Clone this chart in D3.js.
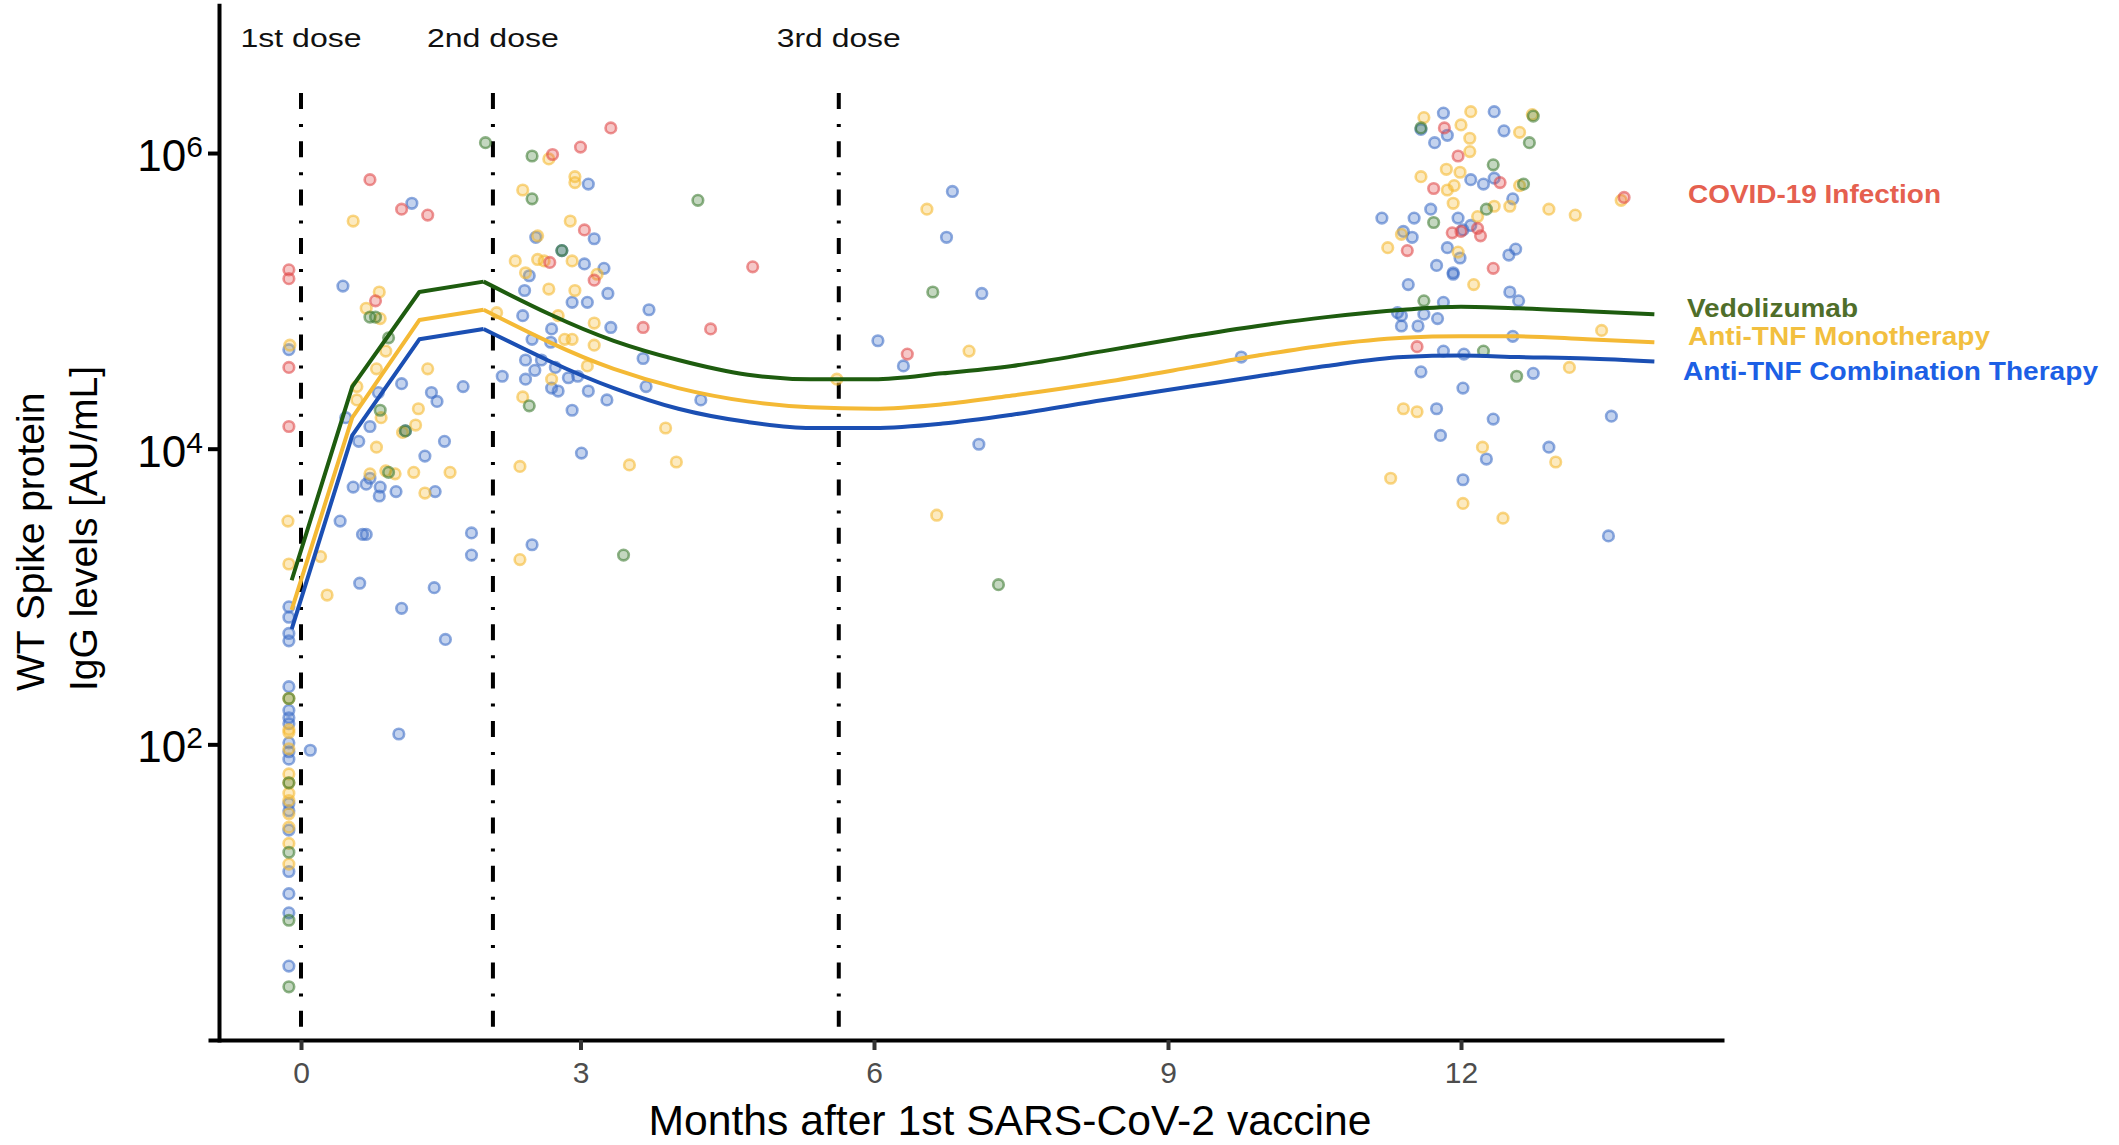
<!DOCTYPE html>
<html>
<head>
<meta charset="utf-8">
<script src="https://cdn.jsdelivr.net/npm/d3@7"></script>
<style>
body { margin: 0; background: #fff; }
text { font-family: "Liberation Sans", Arial, Helvetica, sans-serif; }
</style>
</head>
<body>
<svg id="chart" width="2119" height="1145"></svg>
<script>
// each point: [months after 1st dose, log10 IgG (AU/mL)]
var covidPts = [
  [3.31,6.17],[3.00,6.04],[2.70,5.99],[0.74,5.82],[1.08,5.62],[1.36,5.58],[3.04,5.48],[2.67,5.26],[3.14,5.14],
  [-0.13,5.21],[-0.13,5.15],[0.80,5.00],[3.64,4.82],[4.33,4.81],[-0.13,4.55],[-0.13,4.15],[6.34,4.64],[4.76,5.23],
  [11.83,6.17],[11.97,5.98],[12.40,5.80],[11.72,5.76],[13.67,5.70],[11.91,5.46],[12.00,5.47],[12.17,5.49],
  [12.20,5.44],[11.45,5.34],[12.33,5.22],[11.55,4.69]
];
var vedoPts = [
  [1.98,6.07],[2.48,5.98],[2.48,5.69],[4.20,5.68],[2.80,5.34],[0.74,4.89],[0.80,4.89],[0.94,4.75],[2.45,4.29],
  [0.85,4.26],[1.12,4.12],[0.94,3.84],[3.44,3.28],
  [-0.13,2.31],[-0.13,1.74],[-0.13,1.27],[-0.13,0.81],[-0.13,0.36],
  [6.60,5.06],[7.27,3.08],
  [12.74,6.25],[11.59,6.17],[12.70,6.07],[12.33,5.92],[12.64,5.79],[12.26,5.62],[11.72,5.53],[11.62,5.00],
  [12.23,4.66],[12.57,4.49]
];
var monoPts = [
  [2.66,5.96],[2.94,5.84],[2.94,5.80],[2.38,5.75],[0.56,5.54],[2.89,5.54],[2.54,5.44],[2.30,5.27],[2.54,5.28],
  [2.61,5.27],[2.91,5.27],[3.17,5.18],[2.41,5.19],[0.84,5.06],[0.70,4.95],[0.85,4.88],[2.66,5.08],[2.94,5.07],
  [2.10,4.92],[2.76,4.90],[3.14,4.85],[2.83,4.74],[2.91,4.74],[3.14,4.70],[-0.12,4.70],[0.91,4.66],[0.81,4.54],
  [1.36,4.54],[3.07,4.56],[2.69,4.47],[0.60,4.42],[0.60,4.33],[2.38,4.35],[1.26,4.27],[0.86,4.21],[1.23,4.16],
  [1.09,4.11],[0.81,4.01],[3.87,4.14],[2.35,3.88],[3.50,3.89],[3.98,3.91],[0.74,3.83],[0.91,3.85],[1.01,3.83],
  [1.21,3.84],[1.60,3.84],[1.33,3.70],[-0.14,3.51],[0.21,3.27],[2.35,3.25],[-0.13,3.22],[0.28,3.01],
  [-0.13,2.31],[-0.13,2.10],[-0.13,2.08],[-0.13,1.97],[-0.13,1.80],[-0.13,1.74],[-0.13,1.67],[-0.13,1.62],
  [-0.13,1.53],[-0.13,1.44],[-0.13,1.33],[-0.13,1.19],
  [6.54,5.62],[6.97,4.66],[5.62,4.47],[6.64,3.55],
  [11.62,6.24],[12.10,6.28],[12.73,6.26],[12.00,6.19],[12.60,6.14],[12.09,6.10],[12.09,6.01],[11.59,5.84],
  [11.85,5.89],[11.99,5.87],[12.60,5.78],[11.86,5.75],[11.93,5.78],[11.92,5.66],[12.34,5.64],[12.50,5.64],
  [12.17,5.57],[12.90,5.62],[13.17,5.58],[13.64,5.68],[11.39,5.45],[11.25,5.36],[11.97,5.33],[12.13,5.11],
  [13.44,4.80],[13.11,4.55],[11.41,4.27],[11.55,4.25],[12.22,4.01],[12.97,3.91],[11.28,3.80],[12.02,3.63],
  [12.43,3.53]
];
var comboPts = [
  [3.08,5.79],[1.19,5.66],[3.14,5.42],[2.52,5.43],[2.80,5.34],[3.04,5.25],[3.24,5.22],[2.45,5.17],[0.45,5.10],
  [2.40,5.07],[3.28,5.05],[2.91,4.99],[3.07,4.99],[3.70,4.94],[2.38,4.90],[3.31,4.82],[2.69,4.81],[2.48,4.74],
  [2.68,4.72],[-0.13,4.67],[2.41,4.60],[2.58,4.60],[2.73,4.55],[2.51,4.53],[3.64,4.61],[2.16,4.49],[2.41,4.47],
  [2.87,4.48],[2.97,4.49],[1.08,4.44],[1.74,4.42],[0.83,4.38],[1.40,4.38],[1.46,4.32],[2.69,4.41],[2.76,4.39],
  [3.08,4.39],[3.67,4.42],[3.27,4.33],[4.23,4.33],[2.91,4.26],[0.48,4.21],[0.74,4.15],[1.12,4.12],[0.62,4.05],
  [1.54,4.05],[3.01,3.97],[1.33,3.95],[0.74,3.80],[0.56,3.74],[0.70,3.76],[0.85,3.74],[0.84,3.68],[1.02,3.71],
  [1.44,3.71],[0.42,3.51],[0.66,3.42],[0.70,3.42],[1.83,3.43],[2.48,3.35],[1.83,3.28],[0.63,3.09],[1.43,3.06],
  [1.08,2.92],[1.55,2.71],
  [-0.13,2.93],[-0.13,2.86],[-0.13,2.75],[-0.13,2.70],[-0.13,2.39],[-0.13,2.23],[-0.13,2.18],[-0.13,2.14],
  [-0.13,2.01],[-0.13,1.95],[-0.13,1.90],[-0.13,1.60],[-0.13,1.55],[-0.13,1.42],[-0.13,1.14],[-0.13,0.99],
  [-0.13,0.86],[-0.13,0.50],[0.10,1.96],[1.05,2.07],
  [6.80,5.74],[6.74,5.43],[7.10,5.05],[6.04,4.73],[6.30,4.56],[9.75,4.62],[7.07,4.03],
  [11.82,6.27],[12.34,6.28],[11.59,6.16],[11.86,6.12],[12.44,6.15],[11.73,6.07],[12.10,5.82],[12.23,5.79],
  [12.34,5.83],[12.53,5.69],[11.19,5.56],[11.52,5.56],[11.69,5.62],[11.97,5.56],[12.10,5.51],[12.02,5.48],
  [11.41,5.47],[11.50,5.43],[11.86,5.36],[11.99,5.29],[12.49,5.31],[12.56,5.35],[11.75,5.24],[11.92,5.19],
  [11.92,5.18],[11.46,5.11],[12.50,5.06],[12.59,5.00],[11.82,4.99],[11.35,4.92],[11.39,4.90],[11.62,4.91],
  [11.76,4.88],[11.39,4.83],[11.56,4.83],[12.53,4.76],[11.82,4.66],[12.03,4.64],[11.59,4.52],[12.74,4.51],
  [12.02,4.41],[11.75,4.27],[12.33,4.20],[13.54,4.22],[11.79,4.09],[12.90,4.01],[12.26,3.93],[12.02,3.79],
  [13.51,3.41]
];

// fitted curves, log10 IgG at these months
var fitMonths = [-0.10, 0.55, 1.27, 1.96, 3.34, 4.00, 4.71, 5.35, 6.00, 6.70, 7.41, 8.34, 9.23, 9.92, 10.62, 11.41, 12.0, 12.59, 13.29, 13.98];
var vedoFit  = [3.11, 4.42, 5.06, 5.13, 4.73, 4.60, 4.50, 4.47, 4.47, 4.51, 4.56, 4.66, 4.76, 4.83, 4.89, 4.94, 4.96, 4.95, 4.93, 4.91];
var monoFit  = [2.91, 4.21, 4.87, 4.94, 4.54, 4.41, 4.32, 4.28, 4.27, 4.30, 4.36, 4.45, 4.55, 4.63, 4.70, 4.75, 4.76, 4.76, 4.74, 4.72];
var comboFit = [2.78, 4.09, 4.74, 4.81, 4.41, 4.27, 4.18, 4.14, 4.14, 4.17, 4.23, 4.33, 4.42, 4.49, 4.56, 4.62, 4.63, 4.62, 4.61, 4.59];

var doseMonths = [0, 2.06, 5.64];
var doseLabels = ['1st dose', '2nd dose', '3rd dose'];
var xTicks = [0, 3, 6, 9, 12];
var yTicks = [1e2, 1e4, 1e6];
var groupNames = ['COVID-19 Infection', 'Vedolizumab', 'Anti-TNF Monotherapy', 'Anti-TNF Combination Therapy'];

var svg = d3.select('#chart');

// the printed axis is not perfectly even, so map each tick to its place
var xScale = d3.scaleLinear()
  .domain([-0.998, 0, 3, 6, 9, 12, 14.693])
  .range([208, 301, 580.5, 874, 1168, 1461, 1724]);

var yScale = d3.scaleLog()
  .domain([1, 1e7])
  .range([1040, 5.2]);

function px(d) { return xScale(d[0]); }
function py(d) { return yScale(Math.pow(10, d[1])); }

// dose markers
svg.append('g')
  .selectAll('line')
  .data(doseMonths)
  .join('line')
  .attr('x1', function (d) { return xScale(d); })
  .attr('x2', function (d) { return xScale(d); })
  .attr('y1', 93)
  .attr('y2', 1040)
  .attr('stroke', '#000')
  .attr('stroke-width', 4)
  .attr('stroke-dasharray', '16,15,3,14.3');

var lens = [121, 132, 124];
svg.append('g')
  .selectAll('text')
  .data(doseLabels)
  .join('text')
  .attr('x', function (d, i) { return xScale(doseMonths[i]); })
  .attr('y', 46.5)
  .attr('text-anchor', 'middle')
  .attr('font-size', 26)
  .attr('textLength', function (d, i) { return lens[i]; })
  .attr('lengthAdjust', 'spacingAndGlyphs')
  .attr('fill', '#111')
  .text(function (d) { return d; });

// scatter
var pointSets = [
  { pts: comboPts, color: '#3d6cc6' },
  { pts: monoPts, color: '#f5b82e' },
  { pts: vedoPts, color: '#3c7a30' },
  { pts: covidPts, color: '#e04848' }
];

pointSets.forEach(function (s) {
  svg.append('g')
    .selectAll('circle')
    .data(s.pts)
    .join('circle')
    .attr('cx', px)
    .attr('cy', py)
    .attr('r', 5.3)
    .attr('fill', s.color)
    .attr('fill-opacity', 0.3)
    .attr('stroke', s.color)
    .attr('stroke-opacity', 0.58)
    .attr('stroke-width', 2.6);
});

// fitted curves: straight segments up to the peak, smooth afterwards
var fits = [
  { vals: comboFit, color: '#1b4fb3' },
  { vals: monoFit, color: '#f4b935' },
  { vals: vedoFit, color: '#1e5c0f' }
];

var lineStraight = d3.line().x(px).y(py).curve(d3.curveLinear);
var lineSmooth = d3.line().x(px).y(py).curve(d3.curveMonotoneX);

fits.forEach(function (f) {
  var pts = fitMonths.map(function (m, i) { return [m, f.vals[i]]; });
  svg.append('path')
    .attr('d', lineStraight(pts.slice(0, 4)))
    .attr('fill', 'none')
    .attr('stroke', f.color)
    .attr('stroke-width', 4)
    .attr('stroke-linejoin', 'round');
  svg.append('path')
    .attr('d', lineSmooth(pts.slice(3)))
    .attr('fill', 'none')
    .attr('stroke', f.color)
    .attr('stroke-width', 4)
    .attr('stroke-linejoin', 'round');
});

// axes
var gx = svg.append('g')
  .attr('transform', 'translate(0,1040)')
  .call(d3.axisBottom(xScale).tickValues(xTicks).tickSize(10).tickSizeOuter(0).tickPadding(12));
gx.select('.domain').attr('stroke', '#000').attr('stroke-width', 4);
gx.selectAll('.tick line').attr('stroke', '#333').attr('stroke-width', 4);
gx.selectAll('.tick text')
  .attr('font-size', 30)
  .attr('fill', '#4d4d4d')
  .style('font-family', '"Liberation Sans", Arial, sans-serif');

var gy = svg.append('g')
  .attr('transform', 'translate(219,0)')
  .call(d3.axisLeft(yScale).tickValues(yTicks).tickSize(11).tickSizeOuter(0).tickPadding(5));
gy.select('.domain').attr('stroke', '#000').attr('stroke-width', 4).attr('stroke-linecap', 'square');
gy.selectAll('.tick line').attr('stroke', '#000').attr('stroke-width', 4);
gy.selectAll('.tick text')
  .attr('dy', '0.4em')
  .attr('font-size', 44)
  .attr('fill', '#000')
  .style('font-family', '"Liberation Sans", Arial, sans-serif')
  .each(function (d) {
    var t = d3.select(this);
    t.text(null);
    t.append('tspan').text('10');
    t.append('tspan').attr('dy', -14).attr('font-size', 30).text(Math.round(Math.log10(d)));
  });

// axis titles
svg.append('text')
  .attr('x', 1010)
  .attr('y', 1135)
  .attr('text-anchor', 'middle')
  .attr('font-size', 43)
  .attr('textLength', 723)
  .attr('lengthAdjust', 'spacingAndGlyphs')
  .attr('fill', '#000')
  .text('Months after 1st SARS-CoV-2 vaccine');

var yTitle = ['WT Spike protein', 'IgG levels [AU/mL]'];
svg.append('g')
  .selectAll('text')
  .data(yTitle)
  .join('text')
  .attr('transform', function (d, i) { return 'translate(' + (43.5 + i * 53) + ',691) rotate(-90)'; })
  .attr('text-anchor', 'start')
  .attr('font-size', 39)
  .attr('fill', '#000')
  .text(function (d) { return d; });

// group labels at the right
var labelColors = ['#e5604f', '#4f6e2a', '#f2bf3f', '#1c5fe5'];
var labelPos = [[1688, 203, 253], [1687, 317, 171], [1688, 345, 302], [1683, 380, 415]];
svg.append('g')
  .selectAll('text')
  .data(groupNames)
  .join('text')
  .attr('x', function (d, i) { return labelPos[i][0]; })
  .attr('y', function (d, i) { return labelPos[i][1]; })
  .attr('font-size', 25)
  .attr('font-weight', 'bold')
  .attr('textLength', function (d, i) { return labelPos[i][2]; })
  .attr('lengthAdjust', 'spacingAndGlyphs')
  .attr('fill', function (d, i) { return labelColors[i]; })
  .text(function (d) { return d; });
</script>
</body>
</html>
